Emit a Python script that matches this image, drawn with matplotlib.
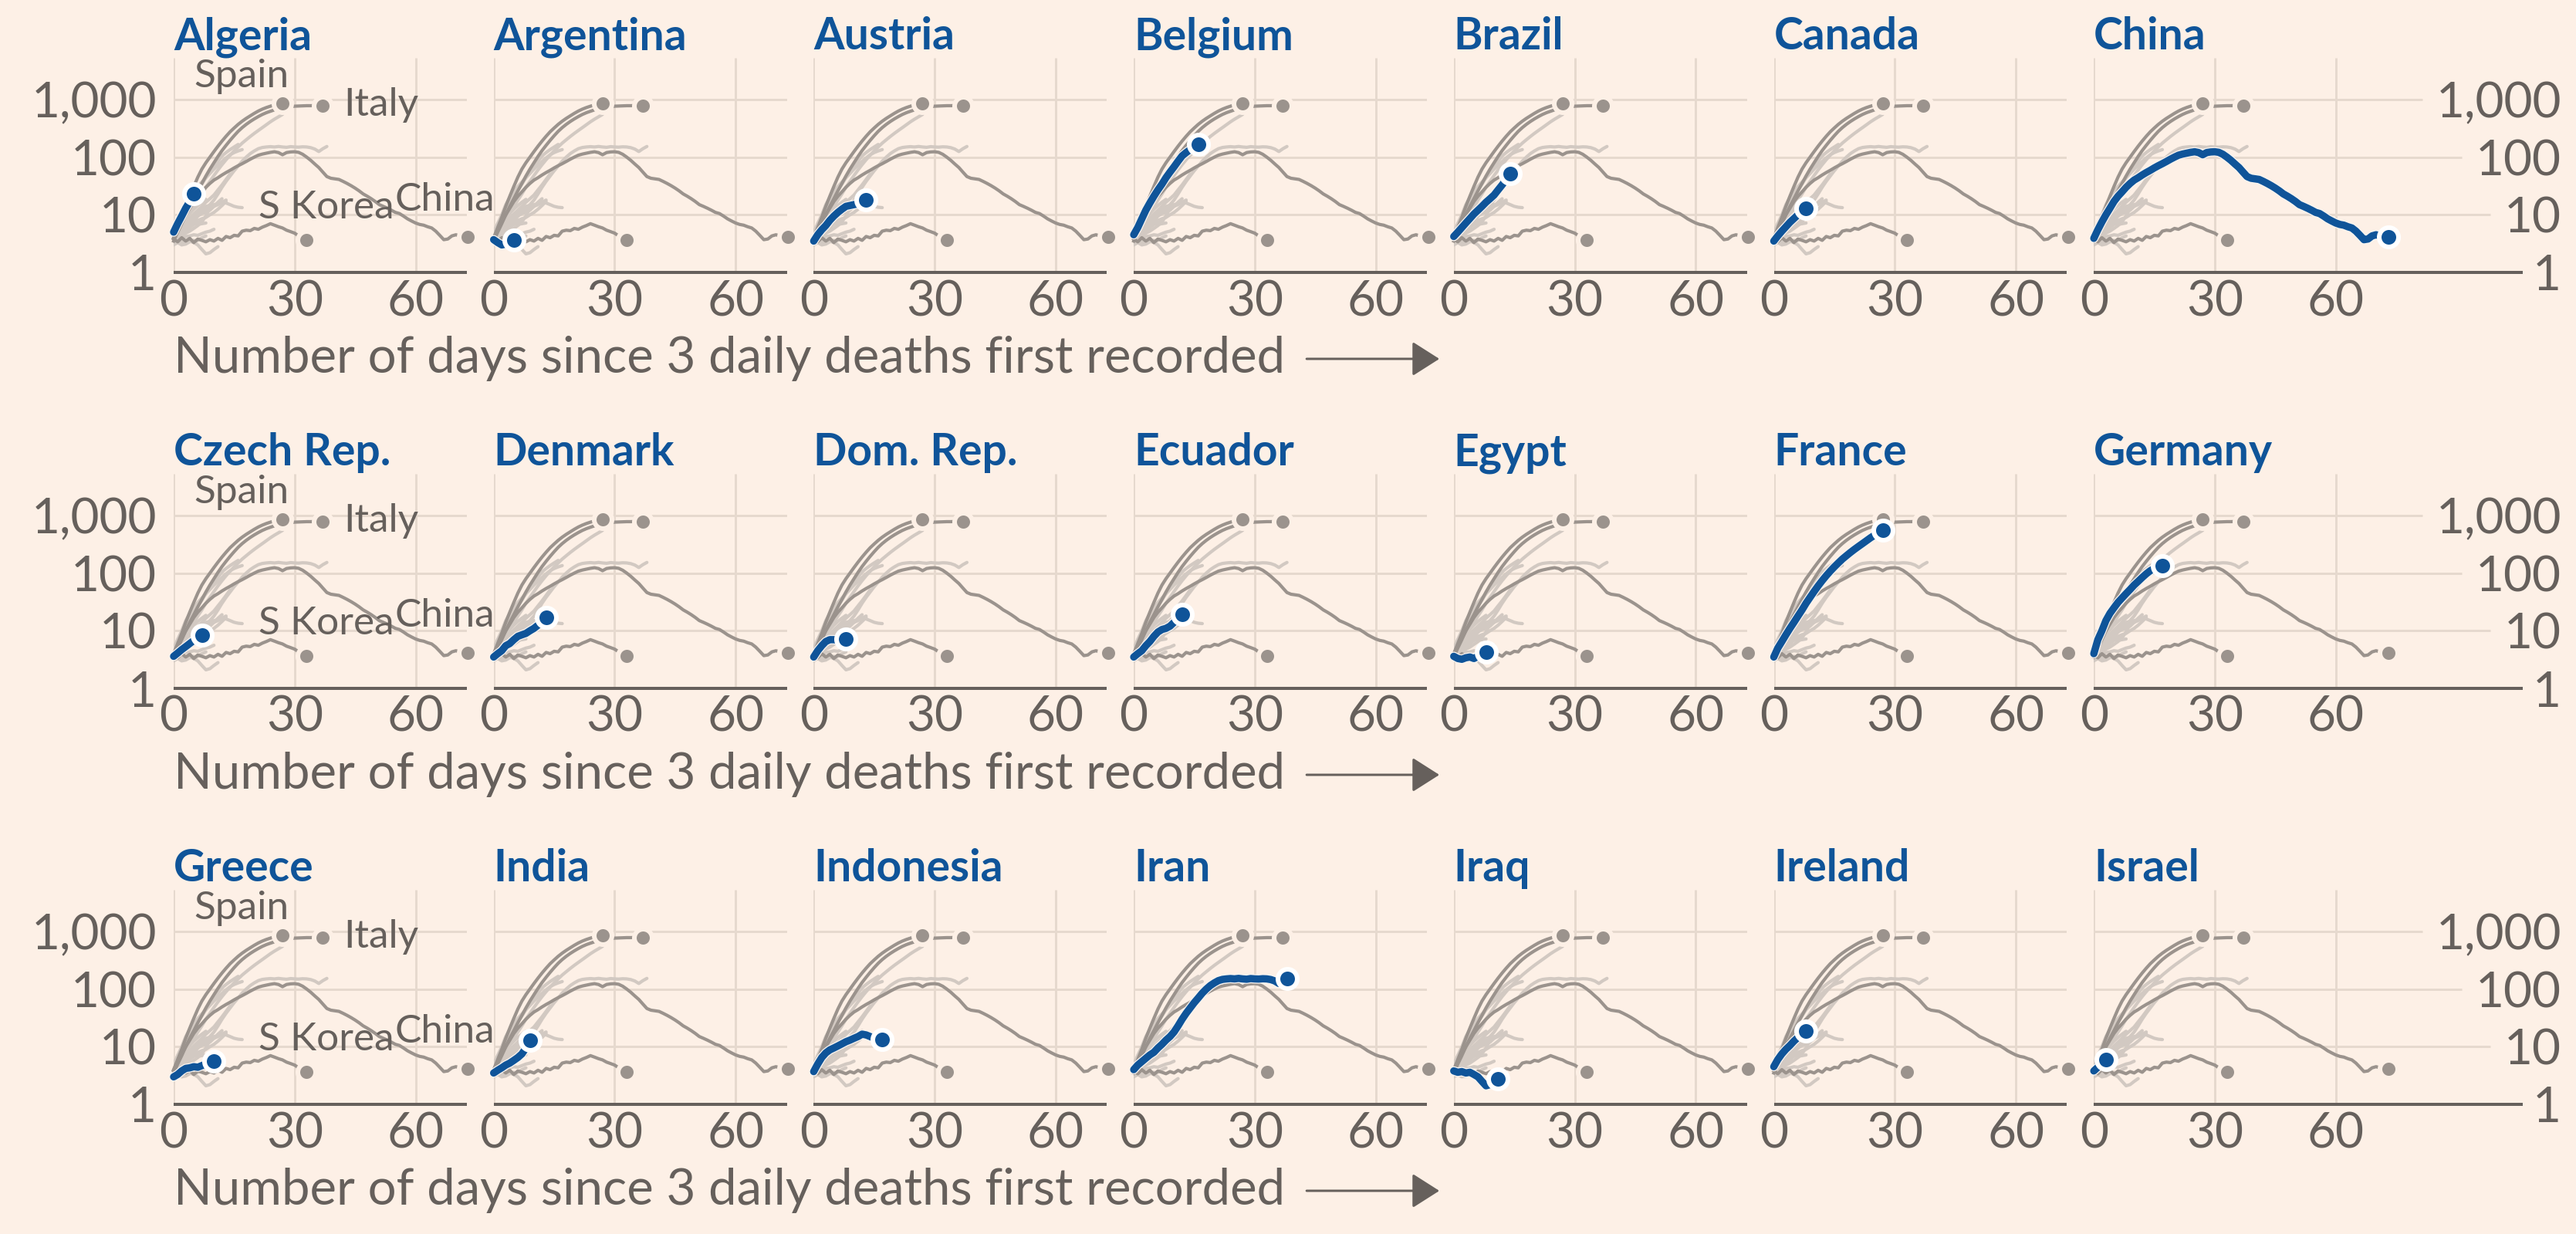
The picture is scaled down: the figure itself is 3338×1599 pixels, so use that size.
import matplotlib
matplotlib.use("Agg")
import matplotlib.pyplot as plt
import matplotlib.patheffects as pe
from matplotlib.patches import FancyArrowPatch
from matplotlib.transforms import IdentityTransform
from matplotlib.ticker import NullLocator

plt.rcParams["font.family"] = ["Lato", "DejaVu Sans"]

# ---------------------------------------------------------------------------
# Daily deaths (rolling average), by days since 3 daily deaths first recorded
# ---------------------------------------------------------------------------
# Reference countries, drawn in grey in every panel
spain = [4, 6, 9, 14, 21, 31, 45, 62, 80, 100, 125, 155, 190, 230, 275, 320,
         370, 420, 470, 520, 575, 630, 680, 725, 765, 800, 830, 850]
italy = [3.5, 5, 7, 10, 14, 19, 26, 35, 47, 62, 80, 103, 130, 160, 195, 235,
         280, 325, 370, 415, 460, 505, 550, 590, 625, 660, 690, 715, 740, 755,
         765, 770, 775, 780, 780, 785, 785, 790]
china = [3.9, 5.5, 7.5, 10, 13, 17, 21, 25, 30, 35, 40, 44, 49, 54, 59, 65,
         71, 77, 84, 92, 100, 108, 113, 117, 121, 124, 120, 110, 120, 123,
         124, 121, 112, 100, 88, 76, 66, 55, 46, 43, 42, 41, 38, 35, 32, 29,
         26, 23, 21, 19, 17, 15, 14, 13, 12, 11, 10.5, 9.5, 8.5, 7.8, 7.2, 6.8,
         6.6, 6.2, 5.9, 5.2, 4.4, 3.7, 3.8, 4.3, 4.5, 4.3, 4.2, 4.1]
s_korea = [3.8, 3.4, 4.0, 3.5, 3.9, 3.3, 3.8, 3.6, 3.4, 3.7, 3.5, 3.9, 3.6,
           4.2, 4.0, 4.4, 4.3, 5.2, 5.4, 5.3, 5.8, 5.6, 6.1, 6.5, 7.0, 6.6,
           6.2, 5.9, 5.4, 5.1, 4.8, 4.3, 4.0, 3.7]

# Highlighted countries
algeria = [5, 7, 9.5, 13, 17, 23]
argentina = [3.7, 3.3, 3.0, 3.1, 3.4, 3.6]
austria = [3.5, 4.5, 5.5, 6.5, 8, 9.5, 11, 12.5, 14, 14.5, 15, 15.5, 16.5, 18]
belgium = [4.5, 6, 8.5, 12, 16, 21, 27, 34, 44, 55, 68, 85, 105, 120, 135,
           150, 166]
brazil = [4.2, 5, 6, 7.2, 8.6, 10.3, 12, 14, 16.5, 19, 22, 27, 33, 41, 51]
canada = [3.5, 4.3, 5.2, 6.2, 7.4, 8.6, 10, 11.5, 13]
czech_rep = [3.6, 4.1, 4.7, 5.3, 6.0, 6.8, 7.6, 8.5]
denmark = [3.5, 4, 4.5, 5.5, 6, 7, 8, 8.5, 9, 10, 11, 12.5, 14.5, 17]
dom_rep = [3.5, 4.5, 5.5, 6.5, 7, 7, 6.8, 7, 7.2]
ecuador = [3.5, 4, 4.5, 5.5, 6.5, 8, 9.5, 10.5, 11, 12, 14, 16.5, 19]
egypt = [3.6, 3.3, 3.2, 3.4, 3.5, 3.3, 3.6, 4.0, 4.3]
france = [3.5, 5, 6.5, 8.5, 11, 14, 18, 23, 30, 38, 48, 60, 74, 90, 108, 128,
          150, 175, 200, 228, 258, 290, 325, 365, 410, 455, 500, 550]
germany = [4, 7, 10, 15, 20, 25, 31, 37, 44, 52, 62, 72, 84, 97, 110, 120,
           128, 135]
greece = [3, 3.3, 3.8, 4.2, 4.3, 4.5, 4.4, 4.7, 5, 5.2, 5.6]
india = [3.5, 3.9, 4.3, 4.8, 5.2, 5.8, 6.5, 7.5, 9.5, 13]
indonesia = [3.7, 5, 6.5, 7.8, 8.8, 9.5, 10.3, 11.2, 12.2, 13, 14, 15, 16.5,
             16, 15, 14, 13.5, 13.3]
iran = [4, 4.8, 5.5, 6.3, 7.2, 8, 9.5, 11, 13, 15, 18, 23, 30, 38, 47, 58, 70,
        85, 100, 115, 128, 140, 147, 150, 152, 150, 153, 150, 148, 152, 150,
        149, 151, 150, 146, 138, 125, 140, 153]
iraq = [3.8, 3.6, 3.7, 3.5, 3.6, 3.3, 3.0, 2.5, 2.1, 2.2, 2.5, 2.8]
ireland = [4.5, 6, 7.5, 9, 10.5, 12.5, 14.5, 16.5, 18.5]
israel = [3.8, 4.4, 5.1, 5.9]

panel_names = ["Algeria", "Argentina", "Austria", "Belgium", "Brazil",
               "Canada", "China",
               "Czech Rep.", "Denmark", "Dom. Rep.", "Ecuador", "Egypt",
               "France", "Germany",
               "Greece", "India", "Indonesia", "Iran", "Iraq", "Ireland",
               "Israel"]
panel_series = [algeria, argentina, austria, belgium, brazil, canada, china,
                czech_rep, denmark, dom_rep, ecuador, egypt, france, germany,
                greece, india, indonesia, iran, iraq, ireland, israel]

reference_series = [spain, italy, china, s_korea]

x_ticks = [0, 30, 60]
y_ticks = [1, 10, 100, 1000]
y_tick_labels = ["1", "10", "100", "1,000"]
x_label = "Number of days since 3 daily deaths first recorded"

# ---------------------------------------------------------------------------
# Styling and layout (pixels at 100 dpi)
# ---------------------------------------------------------------------------
W, H, DPI = 3338, 1599, 100
PT = 72.0 / DPI

BG = "#fdf0e6"
INK = "#66605c"
GRID = "#e6d9ce"
REF = "#9b938d"
LIGHT = "#d2c9c2"
BLUE = "#0f5499"

FS_TICK = 46
FS_TITLE = 41
FS_XLABEL = 47
FS_REF = 37

X_LEFT = 225.0
COL_STEP = 414.7
PX_DAY = 5.225
X_SPAN = 72.7
X_SPAN_RIGHT = 106.4
BASE_Y = 353.0
ROW_STEP = 539.0
DECADE = 74.7
TOP_LOG = 3.72
N_COLS = 7

LW_GREY = 4.2
LW_BLUE = 9.5

fig = plt.figure(figsize=(W / DPI, H / DPI), dpi=DPI, facecolor=BG)


def days(values):
    return list(range(len(values)))


axes = []
for i, (name, values) in enumerate(zip(panel_names, panel_series)):
    r, c = divmod(i, N_COLS)
    span = X_SPAN_RIGHT if c == N_COLS - 1 else X_SPAN
    left = X_LEFT + c * COL_STEP
    base = BASE_Y + r * ROW_STEP
    height = TOP_LOG * DECADE
    width = span * PX_DAY
    ax = fig.add_axes([left / W, 1 - base / H, width / W, height / H])
    ax.patch.set_visible(False)
    for s in ax.spines.values():
        s.set_visible(False)
    ax.set_yscale("log")
    ax.set_xlim(0, span)
    ax.set_ylim(1, 10 ** TOP_LOG)

    # ticks
    ax.set_xticks(x_ticks, labels=[str(t) for t in x_ticks])
    ax.set_yticks(y_ticks, labels=y_tick_labels)
    ax.xaxis.set_minor_locator(NullLocator())
    ax.yaxis.set_minor_locator(NullLocator())
    ax.tick_params(axis="x", length=0, pad=9 * PT, labelsize=FS_TICK,
                   labelcolor=INK)
    if c == 0:
        ax.tick_params(axis="y", length=0, pad=22 * PT, labelsize=FS_TICK,
                       labelcolor=INK)
    elif c == N_COLS - 1:
        ax.yaxis.tick_right()
        ax.tick_params(axis="y", length=0, pad=50 * PT, labelsize=FS_TICK,
                       labelcolor=INK)
        for t in ax.yaxis.get_majorticklabels():
            t.set_horizontalalignment("right")
    else:
        ax.tick_params(axis="y", left=False, labelleft=False)

    # grid
    ax.vlines(x_ticks, 1, 10 ** TOP_LOG, color=GRID, lw=3 * PT, zorder=1)
    if c != N_COLS - 1:
        ax.hlines(y_ticks[1:], 0, X_SPAN, color=GRID, lw=3 * PT, zorder=1)
    ax.plot([0, span], [1, 1], color=INK, lw=4 * PT, zorder=7,
            clip_on=False, solid_capstyle="butt")

    # every country, faint
    for other in panel_series:
        if other is china:
            continue
        ax.plot(days(other), other, color=LIGHT, lw=LW_GREY * PT, zorder=2,
                solid_capstyle="round", solid_joinstyle="round")

    # reference countries
    for ref in reference_series:
        ax.plot(days(ref), ref, color=REF, lw=LW_GREY * PT, zorder=3,
                solid_joinstyle="round", clip_on=False)
    for ref in reference_series:
        ax.plot([len(ref) - 1], [ref[-1]], "o", ms=23 * PT, mfc=REF,
                mec=BG, mew=6 * PT, zorder=4, clip_on=False)

    # highlighted country
    ax.plot(days(values), values, color=BLUE, lw=LW_BLUE * PT, zorder=5,
            solid_capstyle="round", solid_joinstyle="round", clip_on=False,
            path_effects=[pe.Stroke(linewidth=(LW_BLUE + 2.5) * PT,
                                    foreground="#fbf6f2"),
                          pe.Normal()])
    ax.plot([len(values) - 1], [values[-1]], "o", ms=25 * PT, mfc=BLUE,
            mec="white", mew=6 * PT, zorder=6, clip_on=False)

    # panel title
    top = base - height
    fig.text(left / W, 1 - (top - 11) / H, name, fontsize=FS_TITLE,
             fontweight="bold", color=BLUE, va="baseline", ha="left")

    if c == 0:
        ax.text(5.0, 1634, "Spain", fontsize=FS_REF, color=INK,
                va="baseline", ha="left", clip_on=False, zorder=8)
        ax.text(42.1, 522, "Italy", fontsize=FS_REF, color=INK,
                va="baseline", ha="left", clip_on=False, zorder=8)
        ax.text(21.0, 8.65, "S Korea", fontsize=FS_REF, color=INK,
                va="baseline", ha="left", clip_on=False, zorder=8)
        ax.text(54.9, 11.8, "China", fontsize=FS_REF, color=INK,
                va="baseline", ha="left", clip_on=False, zorder=8)
    axes.append((ax, r, c))

# axis caption for each row
captions = []
for r in range(3):
    t = fig.text(X_LEFT / W, 1 - (483 + r * ROW_STEP) / H, x_label,
                 fontsize=FS_XLABEL, color=INK, va="baseline", ha="left")
    captions.append((t, r))

fig.canvas.draw()
renderer = fig.canvas.get_renderer()

# arrows after the captions
for t, r in captions:
    bb = t.get_window_extent(renderer)
    y = H - (465 + r * ROW_STEP)
    arrow = FancyArrowPatch((bb.x1 + 28, y), (bb.x1 + 200, y),
                            arrowstyle="-|>,head_length=22,head_width=14",
                            mutation_scale=1, lw=3 * PT, color=INK,
                            shrinkA=0, shrinkB=0,
                            transform=IdentityTransform())
    fig.add_artist(arrow)

# right-hand panels: gridlines run up to their labels
for ax, r, c in axes:
    if c != N_COLS - 1:
        continue
    inv = ax.transData.inverted()
    for lab, val in zip(ax.yaxis.get_majorticklabels(), y_ticks):
        if val == 1:
            continue
        bb = lab.get_window_extent(renderer)
        x_end = inv.transform((bb.x0 - 18, bb.y0))[0]
        ax.hlines(val, 0, x_end, color=GRID, lw=3 * PT, zorder=1,
                  clip_on=False)

fig.savefig("out.png", dpi=DPI, facecolor=BG)
